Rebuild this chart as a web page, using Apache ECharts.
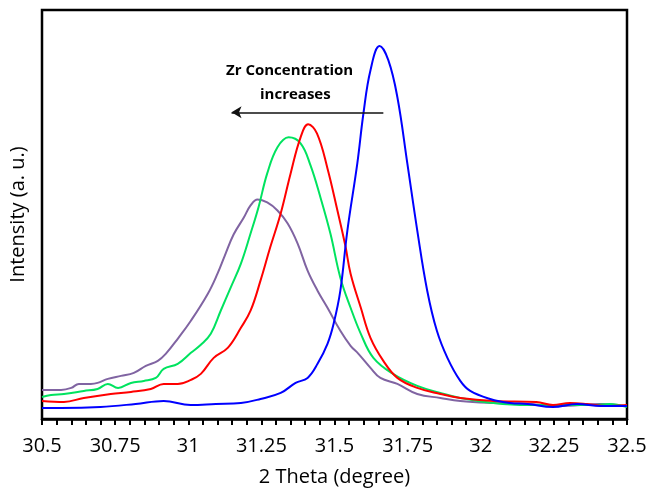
<!DOCTYPE html>
<html>
<head>
<meta charset="utf-8">
<script src="https://cdn.jsdelivr.net/npm/echarts@6/dist/echarts.min.js"></script>
<style>
  html, body { margin: 0; padding: 0; background: #fff; }
  #chart { width: 651px; height: 496px; }
</style>
</head>
<body>
<div id="chart"></div>
<script>
// values: [2 theta, intensity (a.u.)]
const blueData = [
    [30.5, 11], [30.565, 11], [30.7, 12], [30.82, 15], [30.916, 18], [31.008, 14],
    [31.094, 15], [31.18, 16], [31.247, 20], [31.316, 26], [31.367, 36], [31.408, 41],
    [31.442, 55], [31.476, 75], [31.497, 95], [31.52, 128], [31.544, 188], [31.578, 255],
    [31.599, 305], [31.623, 348], [31.654, 372], [31.684, 358], [31.715, 321], [31.749, 255],
    [31.783, 188], [31.817, 128], [31.85, 88], [31.886, 61], [31.93, 38], [31.964, 28],
    [32.032, 20], [32.1, 16], [32.16, 15], [32.247, 12], [32.33, 15], [32.41, 13], [32.5, 13]
]
const redData = [
    [30.5, 18], [30.575, 17], [30.643, 21], [30.735, 25], [30.804, 27], [30.872, 30],
    [30.916, 35], [30.964, 35], [31.009, 39], [31.043, 45], [31.087, 61], [31.135, 71],
    [31.18, 91], [31.213, 108], [31.247, 138], [31.28, 171], [31.316, 205], [31.35, 245],
    [31.384, 281], [31.41, 294], [31.44, 285], [31.476, 250], [31.51, 208], [31.537, 173],
    [31.555, 145], [31.59, 111], [31.623, 81], [31.667, 58], [31.715, 41], [31.783, 31],
    [31.862, 25], [31.93, 21], [32.043, 18], [32.19, 17], [32.247, 14], [32.305, 16],
    [32.363, 15], [32.43, 13], [32.5, 14]
]
const greenData = [
    [30.5, 22], [30.531, 24], [30.575, 25], [30.643, 28], [30.69, 30], [30.725, 35],
    [30.76, 31], [30.804, 36], [30.848, 38], [30.889, 41], [30.916, 50], [30.964, 55],
    [31.009, 66], [31.043, 74], [31.077, 85], [31.111, 108], [31.145, 131], [31.18, 155],
    [31.213, 185], [31.24, 211], [31.27, 245], [31.305, 271], [31.343, 281], [31.384, 275],
    [31.418, 253], [31.452, 221], [31.486, 185], [31.52, 141], [31.555, 111], [31.59, 85],
    [31.633, 61], [31.7, 45], [31.783, 33], [31.862, 26], [31.93, 21], [32.043, 16],
    [32.16, 14], [32.27, 14], [32.384, 14], [32.44, 15], [32.5, 12]
]
const purpleData = [
    [30.5, 29], [30.565, 29], [30.6, 31], [30.626, 35], [30.667, 35], [30.69, 36],
    [30.725, 40], [30.77, 43], [30.814, 46], [30.855, 53], [30.896, 58], [30.923, 65],
    [30.964, 80], [31.009, 98], [31.067, 125], [31.1, 145], [31.125, 163], [31.155, 184],
    [31.19, 201], [31.213, 213], [31.237, 219], [31.27, 216], [31.305, 208], [31.34, 195],
    [31.374, 175], [31.408, 148], [31.442, 128], [31.476, 111], [31.52, 88], [31.555, 73],
    [31.582, 65], [31.623, 51], [31.657, 41], [31.715, 35], [31.783, 25], [31.862, 21],
    [31.93, 18], [32.043, 16], [32.16, 15], [32.27, 13], [32.41, 15], [32.5, 13]
]
// arrow of the annotation, in data units
const arrowFrom = [31.667, 306]
const arrowTo = [31.148, 306]

const chart = echarts.init(document.querySelector('#chart'))

const lineSeries = (data, color) => ({
    type: 'line',
    data,
    smooth: 0.4,
    showSymbol: false,
    silent: true,
    lineStyle: { color, width: 2 }
})

const purple = lineSeries(purpleData, '#8064a2')
const green = lineSeries(greenData, '#00e35f')
const red = lineSeries(redData, '#ff0000')
const blue = lineSeries(blueData, '#0000ff')
blue.markLine = {
    silent: true,
    symbol: ['none', 'arrow'],
    symbolSize: [9, 10],
    label: { show: false },
    lineStyle: { color: '#111', width: 1.5, type: 'solid' },
    data: [[{ coord: arrowFrom }, { coord: arrowTo }]]
}

const option = {
    animation: false,
    grid: {
        left: 41, right: 24, top: 10, bottom: 77,
        show: true, borderColor: '#000', borderWidth: 2.5
    },
    xAxis: {
        type: 'value',
        min: 30.5,
        max: 32.5,
        interval: 0.25,
        name: '2 Theta (degree)',
        nameLocation: 'middle',
        nameGap: 48,
        nameTextStyle: { fontFamily: 'Open Sans', fontSize: 20, color: '#000' },
        axisLine: { lineStyle: { color: '#000', width: 2.5 } },
        axisTick: { length: 6, lineStyle: { color: '#000', width: 2 } },
        minorTick: { show: true, splitNumber: 5, length: 6, lineStyle: { color: '#000', width: 2 } },
        splitLine: { show: false },
        axisLabel: {
            fontFamily: 'Open Sans', fontSize: 20, color: '#000', margin: 17,
            formatter: v => String(+v.toFixed(2))
        }
    },
    yAxis: {
        type: 'value',
        min: 0,
        max: 408,
        name: 'Intensity (a. u.)',
        nameLocation: 'middle',
        nameGap: 14,
        nameTextStyle: { fontFamily: 'Open Sans', fontSize: 20, color: '#000' },
        axisLine: { show: false },
        axisTick: { show: false },
        axisLabel: { show: false },
        splitLine: { show: false }
    },
    graphic: [
        {
            type: 'text', left: 226, top: 63,
            style: { text: 'Zr Concentration', font: 'bold 15px "Open Sans"', fill: '#000' }
        },
        {
            type: 'text', left: 260, top: 87,
            style: { text: 'increases', font: 'bold 15px "Open Sans"', fill: '#000' }
        }
    ],
    series: [purple, green, red, blue]
}

chart.setOption(option)
</script>
</body>
</html>
